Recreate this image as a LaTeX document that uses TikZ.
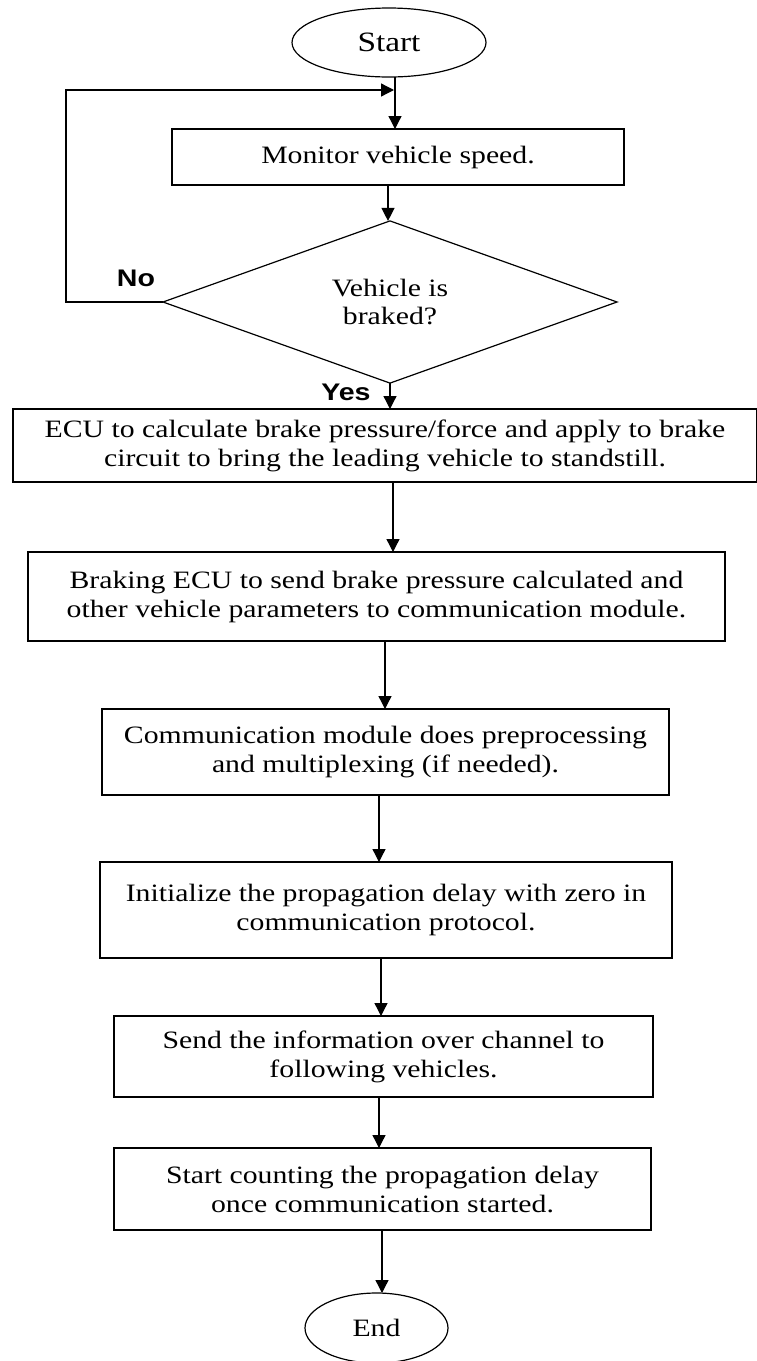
\documentclass[tikz,border=0pt]{standalone}
\usepackage{fontspec}
\setmainfont{Liberation Serif}[FakeStretch=1.19]
\newfontfamily\labelfont{Liberation Sans}[FakeStretch=1.19]
\usetikzlibrary{shapes.geometric,arrows.meta}
\begin{document}
\begin{tikzpicture}[x=1pt,y=-1pt,
  every node/.style={inner sep=0pt, outer sep=0pt},
  box/.style={draw, line width=1.2pt, rectangle, align=center, font=\fontsize{25}{29}\selectfont},
  term/.style={draw, line width=1.2pt, ellipse},
  decision/.style={draw, line width=1.2pt, diamond, align=center, font=\fontsize{25}{28}\selectfont},
  arr/.style={line width=1.3pt, -{Triangle[length=13pt,width=13pt]}},
  lbl/.style={font=\labelfont\bfseries\fontsize{24}{28}\selectfont}]
\path[use as bounding box, fill=white] (0,0) rectangle (756,1361);

\node[term, minimum width=194, minimum height=69, font=\fontsize{28}{32}\selectfont] (start) at (389,42.5) {Start};
\node[box, minimum width=452, minimum height=56] (monitor) at (398,157) {Monitor vehicle speed.};
\node[decision, minimum width=454, minimum height=133] (dec) at (390,302) {Vehicle is\\braked?};
\node[box, minimum width=744, minimum height=73] (ecu) at (385,445.5) {ECU to calculate brake pressure/force and apply to brake\\circuit to bring the leading vehicle to standstill.};
\node[box, minimum width=697, minimum height=89] (braking) at (376.5,596.5) {Braking ECU to send brake pressure calculated and\\other vehicle parameters to communication module.};
\node[box, minimum width=567, minimum height=86] (comm) at (385.5,752) {Communication module does preprocessing\\and multiplexing (if needed).};
\node[box, minimum width=572, minimum height=96] (init) at (386,910) {Initialize the propagation delay with zero in\\communication protocol.};
\node[box, minimum width=539, minimum height=81] (send) at (383.5,1056.5) {Send the information over channel to\\following vehicles.};
\node[box, minimum width=537, minimum height=82] (count) at (382.5,1189) {Start counting the propagation delay\\once communication started.};
\node[term, minimum width=143, minimum height=70, font=\fontsize{25}{29}\selectfont] (end) at (376.5,1328) {End};

\node[lbl] (no) at (136,278) {No};
\node[lbl] (yes) at (346,392) {Yes};

\coordinate (fbl) at (66,302);
\coordinate (fbt) at (66,90);
\coordinate (fbr) at (394,90);

\draw[arr] ([xshift=6]start.south) -- ([xshift=-3]monitor.north);
\draw[arr] ([xshift=-10]monitor.south) -- ([xshift=-2]dec.north);
\draw[arr] (dec.south) -- ([xshift=5]ecu.north);
\draw[arr] ([xshift=8]ecu.south) -- ([xshift=16.5]braking.north);
\draw[arr] ([xshift=8.5]braking.south) -- ([xshift=-0.5]comm.north);
\draw[arr] ([xshift=-6.5]comm.south) -- ([xshift=-7]init.north);
\draw[arr] ([xshift=-5]init.south) -- ([xshift=-2.5]send.north);
\draw[arr] ([xshift=-4.5]send.south) -- ([xshift=-3.5]count.north);
\draw[arr] ([xshift=-0.5]count.south) -- ([xshift=5.5]end.north);
\draw[arr] (dec.west) -- (fbl) -- (fbt) -- (fbr);
\end{tikzpicture}
\end{document}
